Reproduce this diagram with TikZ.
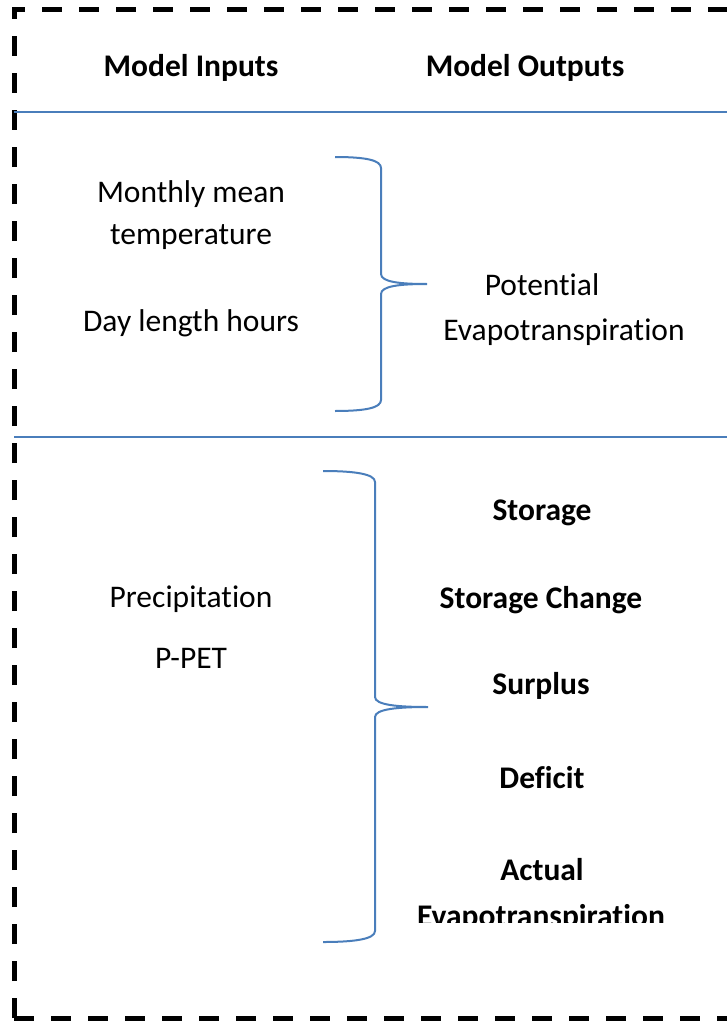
\documentclass[tikz,border=0pt]{standalone}
\usepackage{fontspec}
\setmainfont{Carlito}[Ligatures={NoCommon,NoRare}]
\definecolor{wordblue}{RGB}{74,126,187}
\tikzset{
  txt/.style={anchor=base, inner sep=0pt, font=\fontsize{31.5}{38}\selectfont},
  btxt/.style={txt, font=\fontsize{31.5}{38}\selectfont\bfseries},
  frame/.style={line width=5pt, dash pattern=on 20pt off 17pt},
  sep/.style={wordblue, line width=1.8pt},
  brace/.style={wordblue, line width=2pt}
}
\begin{document}
\begin{tikzpicture}[x=1pt, y=-1pt]
 \useasboundingbox (0,0) rectangle (727,1022);
 \clip (0,0) rectangle (727,1022);
%
 \draw[frame] (14,1018) -- (14,10) -- (760,10);
 \draw[frame] (14,1018) -- (760,1018);
 \draw[sep] (14,112) -- (727,112);
 \draw[sep] (14,437) -- (727,437);
%
 \node[btxt] (inputs) at (191,77) {Model Inputs};
 \node[btxt] (outputs) at (525,77) {Model Outputs};
%
 \node[txt] (monthly) at (191,202) {Monthly mean};
 \node[txt] (temp) at (191,244) {temperature};
 \node[txt] (daylen) at (191,331) {Day length hours};
 \node[txt] (potential) at (542,295) {Potential};
 \node[txt] (pet) at (564,340) {Evapotranspiration};
%
 \coordinate (b1top) at (335,157);
 \coordinate (b1tip) at (427,284);
 \coordinate (b1bot) at (335,411);
 \draw[brace] (b1top) .. controls (365,157) and (381,160) .. (381,168)
   -- (381,274) .. controls (381,282) and (400,284) .. (b1tip)
   .. controls (400,284) and (381,286) .. (381,294)
   -- (381,400) .. controls (381,408) and (365,411) .. (b1bot);
%
 \node[txt] (precip) at (191,607) {Precipitation};
 \node[txt] (ppet) at (191,668) {P-PET};
%
 \coordinate (b2top) at (323,471);
 \coordinate (b2tip) at (428,707);
 \coordinate (b2bot) at (323,942);
 \draw[brace] (b2top) .. controls (355,471) and (375,474) .. (375,482)
   -- (375,697) .. controls (375,705) and (398,707) .. (b2tip)
   .. controls (398,707) and (375,709) .. (375,717)
   -- (375,931) .. controls (375,939) and (355,942) .. (b2bot);
%
 \node[btxt] (storage) at (542,520) {Storage};
 \node[btxt] (change) at (541,608) {Storage Change};
 \node[btxt] (surplus) at (541,694) {Surplus};
 \node[btxt] (deficit) at (542,788) {Deficit};
 \node[btxt] (actual) at (542,880) {Actual};
 \begin{scope}
  \clip (390,880) rectangle (700,922);
  \node[btxt] (aet) at (541,926) {Evapotranspiration};
 \end{scope}
\end{tikzpicture}
\end{document}
